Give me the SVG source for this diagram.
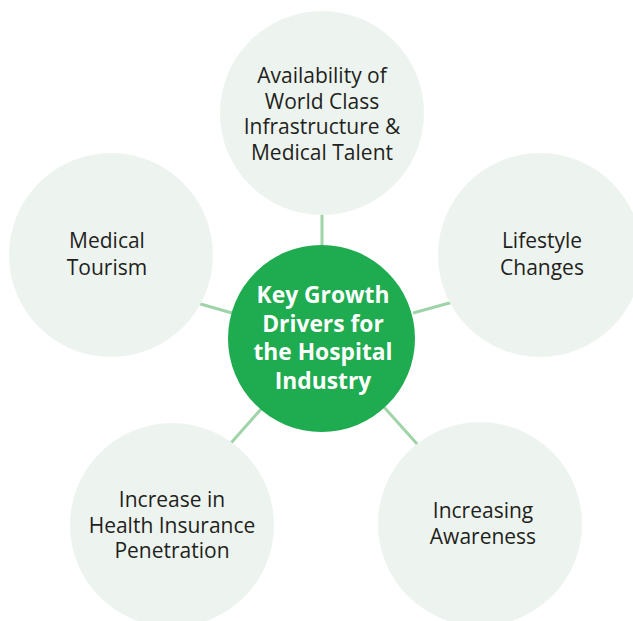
<svg xmlns="http://www.w3.org/2000/svg" width="633" height="621" viewBox="0 0 633 621">
<style>
.bg{fill:#edf4ef}
.hub{fill:#1fab4f}
.t{font-family:"Open Sans","Liberation Sans",sans-serif;font-size:21px;fill:#231f20;text-anchor:middle}
.h{font-family:"Open Sans","Liberation Sans",sans-serif;font-size:22.8px;font-weight:bold;fill:#ffffff;text-anchor:middle}
.c{stroke:#9fd4a8;stroke-width:3;fill:none}
</style>
<rect width="633" height="621" fill="#ffffff"/>
<g id="connectors">
<line class="c" x1="322" y1="212" x2="322" y2="248"/>
<line class="c" x1="197" y1="303" x2="232" y2="313"/>
<line class="c" x1="413" y1="313" x2="453" y2="302"/>
<line class="c" x1="231" y1="443" x2="262" y2="408"/>
<line class="c" x1="383" y1="406" x2="418" y2="445"/>
</g>
<g id="node-top">
<circle class="bg" cx="322" cy="113" r="102"/>
<text class="t"><tspan x="322" y="83">Availability of</tspan><tspan x="322" y="108.5">World Class</tspan><tspan x="322" y="134">Infrastructure &amp;</tspan><tspan x="322" y="159.5">Medical Talent</tspan></text>
</g>
<g id="node-left">
<circle class="bg" cx="111" cy="255" r="102"/>
<text class="t"><tspan x="107" y="248">Medical</tspan><tspan x="107" y="274.5">Tourism</tspan></text>
</g>
<g id="node-right">
<circle class="bg" cx="540" cy="255" r="102"/>
<text class="t"><tspan x="542" y="248">Lifestyle</tspan><tspan x="542" y="274.5">Changes</tspan></text>
</g>
<g id="node-bottom-left">
<circle class="bg" cx="172" cy="525" r="102"/>
<text class="t"><tspan x="172" y="507">Increase in</tspan><tspan x="172" y="532.5">Health Insurance</tspan><tspan x="172" y="558">Penetration</tspan></text>
</g>
<g id="node-bottom-right">
<circle class="bg" cx="480" cy="524" r="102"/>
<text class="t"><tspan x="483" y="518">Increasing</tspan><tspan x="483" y="544">Awareness</tspan></text>
</g>
<g id="node-center">
<circle class="hub" cx="321.5" cy="338.5" r="93.5"/>
<text class="h"><tspan x="323" y="303">Key Growth</tspan><tspan x="323" y="331.5">Drivers for</tspan><tspan x="323" y="360">the Hospital</tspan><tspan x="323" y="388.5">Industry</tspan></text>
</g>
</svg>
